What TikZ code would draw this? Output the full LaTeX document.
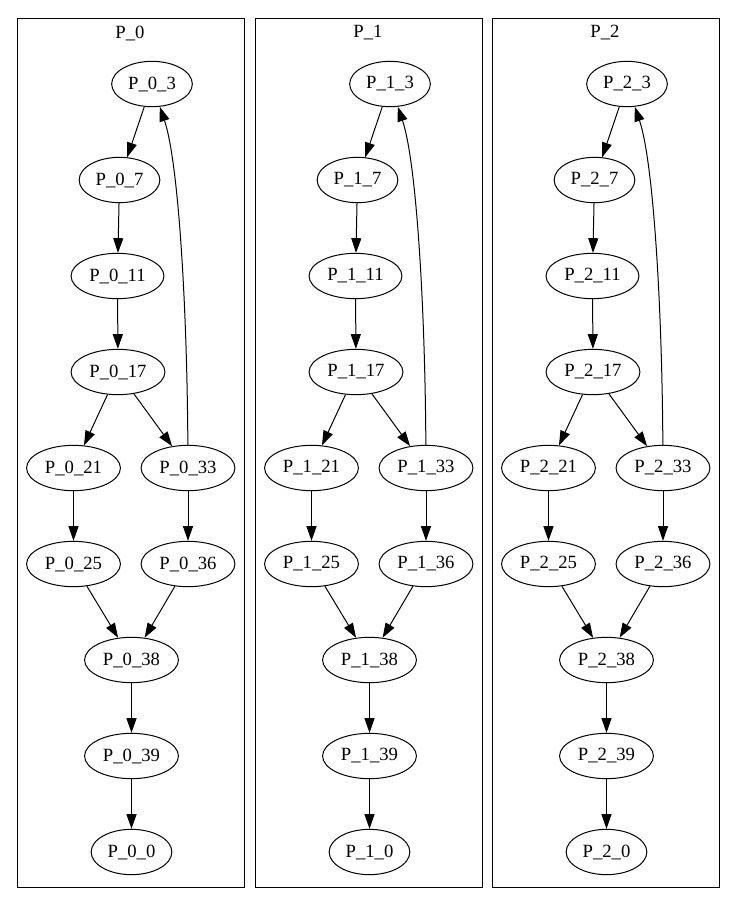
\documentclass[tikz,border=0pt]{standalone}
\usepackage{fontspec}
\setmainfont{Liberation Serif}
\usetikzlibrary{arrows.meta,shapes.geometric}

\begin{document}
\begin{tikzpicture}[x=0.75pt,y=-0.75pt,
	state/.style={draw,ellipse,line width=0.75pt,minimum height=34pt,minimum width=54pt,inner xsep=3.5pt,font=\fontsize{14}{16}\selectfont},
	cluster/.style={draw,line width=0.75pt},
	edge/.style={-{Triangle[length=11pt,width=7.5pt]},line width=0.75pt}]
	\useasboundingbox (0,0) rectangle (736,915);
	\foreach \c/\o in {0/0,1/238,2/475}{
		\draw[cluster] (17+\o,18) rectangle (244+\o,887);
		\node[font=\fontsize{14}{16}\selectfont] (title\c) at (130+\o,33) {P\_\c};
		\node[state] (p\c-3) at (152+\o,84) {P\_\c\_3};
		\node[state] (p\c-7) at (119.5+\o,180) {P\_\c\_7};
		\node[state] (p\c-11) at (117.5+\o,276) {P\_\c\_11};
		\node[state] (p\c-17) at (118+\o,372) {P\_\c\_17};
		\node[state] (p\c-21) at (73.5+\o,468) {P\_\c\_21};
		\node[state] (p\c-33) at (188+\o,468) {P\_\c\_33};
		\node[state] (p\c-25) at (73.5+\o,564) {P\_\c\_25};
		\node[state] (p\c-36) at (188+\o,564) {P\_\c\_36};
		\node[state] (p\c-38) at (131.5+\o,660) {P\_\c\_38};
		\node[state] (p\c-39) at (131.5+\o,756) {P\_\c\_39};
		\node[state] (p\c-0) at (131.5+\o,852) {P\_\c\_0};
		\draw[edge] (p\c-3) -- (p\c-7);
		\draw[edge] (p\c-7) -- (p\c-11);
		\draw[edge] (p\c-11) -- (p\c-17);
		\draw[edge] (p\c-17) -- (p\c-21);
		\draw[edge] (p\c-17) -- (p\c-33);
		\draw[edge] (p\c-21) -- (p\c-25);
		\draw[edge] (p\c-33) -- (p\c-36);
		\draw[edge] (p\c-25) -- (p\c-38);
		\draw[edge] (p\c-36) -- (p\c-38);
		\draw[edge] (p\c-38) -- (p\c-39);
		\draw[edge] (p\c-39) -- (p\c-0);
		% back edge
		\draw[edge] (p\c-33) .. controls (187+\o,300) and (178+\o,160) .. (p\c-3);
	}
\end{tikzpicture}
\end{document}
